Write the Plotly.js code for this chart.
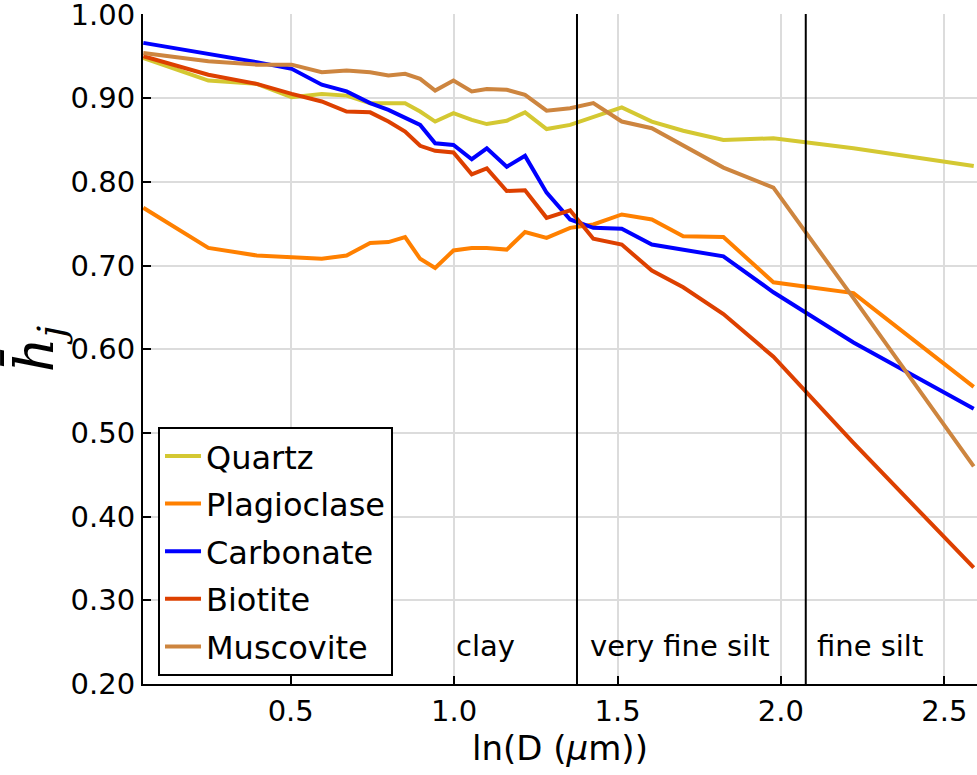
<!DOCTYPE html>
<html>
<head>
<meta charset="utf-8">
<script src="https://cdn.plot.ly/plotly-3.0.1.min.js"></script>
<style>
  html, body { margin: 0; padding: 0; background: #fff; }
  #chart { width: 977px; height: 775px; }
</style>
</head>
<body>
<div id="chart"></div>
<script>
// ln(D) values shared by all minerals
const lnD = [0.049, 0.248, 0.396, 0.503, 0.595, 0.671, 0.743, 0.799, 0.850, 0.896,
  0.942, 0.998, 1.054, 1.100, 1.161, 1.217, 1.283, 1.355, 1.426, 1.513,
  1.605, 1.701, 1.824, 1.977, 2.222, 2.590];

const quartz = [0.948, 0.921, 0.917, 0.901, 0.905, 0.903, 0.894, 0.894, 0.894, 0.884,
  0.872, 0.882, 0.874, 0.869, 0.873, 0.883, 0.863, 0.868, 0.878, 0.889,
  0.872, 0.861, 0.850, 0.852, 0.840, 0.819];
const plagioclase = [0.769, 0.721, 0.712, 0.710, 0.708, 0.712, 0.727, 0.728, 0.734, 0.708,
  0.697, 0.718, 0.721, 0.721, 0.719, 0.740, 0.733, 0.745, 0.749, 0.761,
  0.755, 0.735, 0.734, 0.680, 0.667, 0.555];
const carbonate = [0.966, 0.953, 0.943, 0.935, 0.916, 0.908, 0.894, 0.886, 0.876, 0.868,
  0.846, 0.844, 0.827, 0.840, 0.818, 0.831, 0.787, 0.755, 0.745, 0.744,
  0.725, 0.719, 0.711, 0.668, 0.608, 0.529];
const biotite = [0.950, 0.928, 0.917, 0.905, 0.896, 0.884, 0.883, 0.872, 0.860, 0.843,
  0.837, 0.835, 0.809, 0.816, 0.789, 0.790, 0.757, 0.766, 0.732, 0.725,
  0.694, 0.674, 0.642, 0.591, 0.488, 0.339];
const muscovite = [0.954, 0.944, 0.940, 0.940, 0.931, 0.933, 0.931, 0.927, 0.929, 0.923,
  0.909, 0.921, 0.908, 0.911, 0.910, 0.904, 0.885, 0.888, 0.894, 0.872,
  0.864, 0.843, 0.817, 0.793, 0.661, 0.460];

const names = ["Quartz", "Plagioclase", "Carbonate", "Biotite", "Muscovite"];
const colors = ["#d4c832", "#ff8000", "#0000ff", "#dd4000", "#cd853f"];
const series = [quartz, plagioclase, carbonate, biotite, muscovite];

// grain size class boundaries and labels
const boundaries = [1.376, 2.076];
const classNames = ["clay", "very fine silt", "fine silt"];
const classX = [1.095, 1.691, 2.273];
const classY = 0.245;

const xTicks = [0.5, 1.0, 1.5, 2.0, 2.5];
const xTickText = ["0.5", "1.0", "1.5", "2.0", "2.5"];
const yTicks = [0.2, 0.3, 0.4, 0.5, 0.6, 0.7, 0.8, 0.9, 1.0];
const yTickText = ["0.20", "0.30", "0.40", "0.50", "0.60", "0.70", "0.80", "0.90", "1.00"];

const font = "DejaVu Sans, Verdana, sans-serif";

let data = [];
for (let i = 0; i < series.length; i++) {
  data.push({
    x: lnD,
    y: series[i],
    mode: "lines",
    type: "scatter",
    name: names[i],
    legendgroup: "g" + i,
    line: { color: colors[i], width: 4 }
  });
}

let shapes = boundaries.map(b => ({
  type: "line", xref: "x", yref: "paper",
  x0: b, x1: b, y0: 0, y1: 1,
  line: { color: "#000", width: 2 }
}));

let annotations = classNames.map((t, i) => ({
  x: classX[i], y: classY, xref: "x", yref: "y",
  text: t, showarrow: false,
  font: { family: font, size: 29, color: "#000" }
}));

const layout = {
  width: 977,
  height: 775,
  margin: { l: 143, r: 0, t: 14, b: 91 },
  paper_bgcolor: "#fff",
  plot_bgcolor: "#fff",
  showlegend: true,
  legend: {
    x: 0.018, y: 0.384, xanchor: "left", yanchor: "top",
    bgcolor: "#fff", bordercolor: "#000", borderwidth: 2,
    font: { family: font, size: 32, color: "#000" },
    tracegroupgap: 3, itemwidth: 36
  },
  xaxis: {
    range: [0.048, 2.6],
    tickvals: xTicks, ticktext: xTickText,
    ticks: "inside", ticklen: 8, tickwidth: 2, tickcolor: "#000",
    showline: true, linecolor: "#000", linewidth: 2,
    showgrid: true, gridcolor: "#dcdcdc", gridwidth: 2,
    zeroline: false,
    tickfont: { family: font, size: 29, color: "#000" },
    title: { text: "ln(D (<i>μ</i>m))", font: { family: font, size: 34, color: "#000" }, standoff: 2 }
  },
  yaxis: {
    range: [0.2, 1.0005],
    tickvals: yTicks, ticktext: yTickText,
    ticklabeloverflow: "allow",
    ticks: "inside", ticklen: 8, tickwidth: 2, tickcolor: "#000",
    showline: true, linecolor: "#000", linewidth: 2,
    showgrid: true, gridcolor: "#dcdcdc", gridwidth: 2,
    zeroline: false,
    tickfont: { family: font, size: 29, color: "#000" },
    title: { text: "<i>h̄</i><sub><i>j</i></sub>", font: { family: "DejaVu Serif, serif", size: 54, color: "#000" }, standoff: 6 }
  },
  shapes: shapes,
  annotations: annotations
};

Plotly.newPlot("chart", data, layout, { displayModeBar: false, staticPlot: true });
</script>
</body>
</html>
